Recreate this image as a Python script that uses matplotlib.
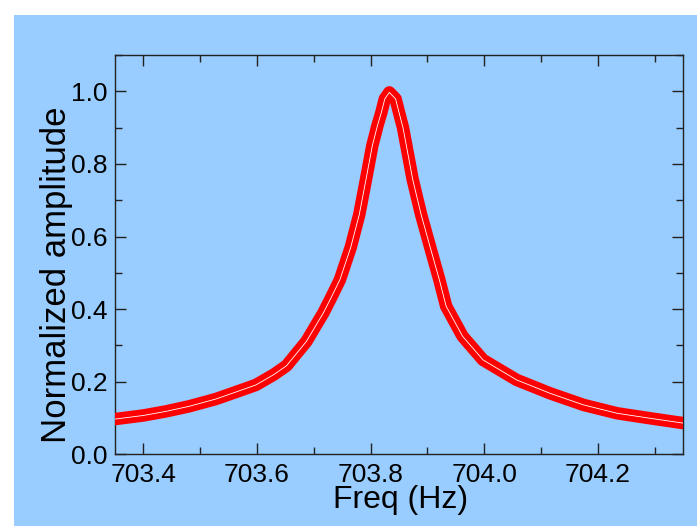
import matplotlib
matplotlib.use("Agg")
import matplotlib.pyplot as plt
from matplotlib.patches import Rectangle
from matplotlib.ticker import MultipleLocator

freq = [703.35, 703.40, 703.439, 703.48, 703.527, 703.56, 703.598, 703.63,
        703.652, 703.687, 703.717, 703.73, 703.746, 703.765, 703.780,
        703.792, 703.803, 703.812, 703.819, 703.825, 703.833, 703.844, 703.850,
        703.857, 703.863, 703.874, 703.889, 703.905,
        703.921, 703.933, 703.962, 703.998, 704.057, 704.116, 704.175, 704.234,
        704.293, 704.35]
amp = [0.097, 0.107, 0.118, 0.132, 0.152, 0.170, 0.191, 0.220,
       0.244, 0.311, 0.390, 0.430, 0.481, 0.570, 0.660,
       0.758, 0.850, 0.905, 0.942, 0.979, 0.997, 0.979, 0.942,
       0.900, 0.850, 0.758, 0.660, 0.570,
       0.481, 0.408, 0.325, 0.260, 0.205, 0.168, 0.136, 0.113,
       0.099, 0.086]

xticks = [703.4, 703.6, 703.8, 704.0, 704.2]
xticklabels = ["703.4", "703.6", "703.8", "704.0", "704.2"]
yticks = [0.0, 0.2, 0.4, 0.6, 0.8, 1.0]
yticklabels = ["0.0", "0.2", "0.4", "0.6", "0.8", "1.0"]

BLUE = "#99CCFF"
plt.rcParams['font.family'] = ['Liberation Sans', 'DejaVu Sans']

fig = plt.figure(figsize=(6.97, 5.26), dpi=100)
fig.patch.set_facecolor("white")
fig.patches.append(Rectangle((14 / 697, 0), 1, 1 - 15 / 526, transform=fig.transFigure,
                             facecolor=BLUE, edgecolor="none", zorder=-10))

ax = fig.add_axes([115 / 697, 1 - 454.3 / 526, (683 - 115) / 697, (454.3 - 55) / 526])
ax.set_facecolor(BLUE)

ax.plot(freq, amp, color="#FF0000", lw=9, solid_joinstyle="round", zorder=3)
ax.plot(freq, amp, color="white", lw=0.6, zorder=4)

ax.set_xlim(703.35, 704.35)
ax.set_ylim(0, 1.1)
ax.set_xticks(xticks)
ax.set_xticklabels(xticklabels)
ax.set_yticks(yticks)
ax.set_yticklabels(yticklabels)
ax.xaxis.set_minor_locator(MultipleLocator(0.1))
ax.yaxis.set_minor_locator(MultipleLocator(0.1))
ax.tick_params(which="both", direction="in", top=True, right=True, colors="#222222",
               width=1)
ax.tick_params(which="major", length=8, labelsize=19, labelcolor="black")
ax.tick_params(which="minor", length=5)
ax.tick_params(axis="x", which="major", pad=6)
ax.tick_params(axis="y", which="major", pad=5.5)
for s in ax.spines.values():
    s.set_color("#222222")
    s.set_linewidth(1)

ax.set_xlabel("Freq (Hz)", fontsize=23)
ax.set_ylabel("Normalized amplitude", fontsize=25)
ax.xaxis.set_label_coords(0.502, -0.078)
ax.yaxis.set_label_coords(-0.074, 0.449)

fig.savefig("out.png", dpi=100)
